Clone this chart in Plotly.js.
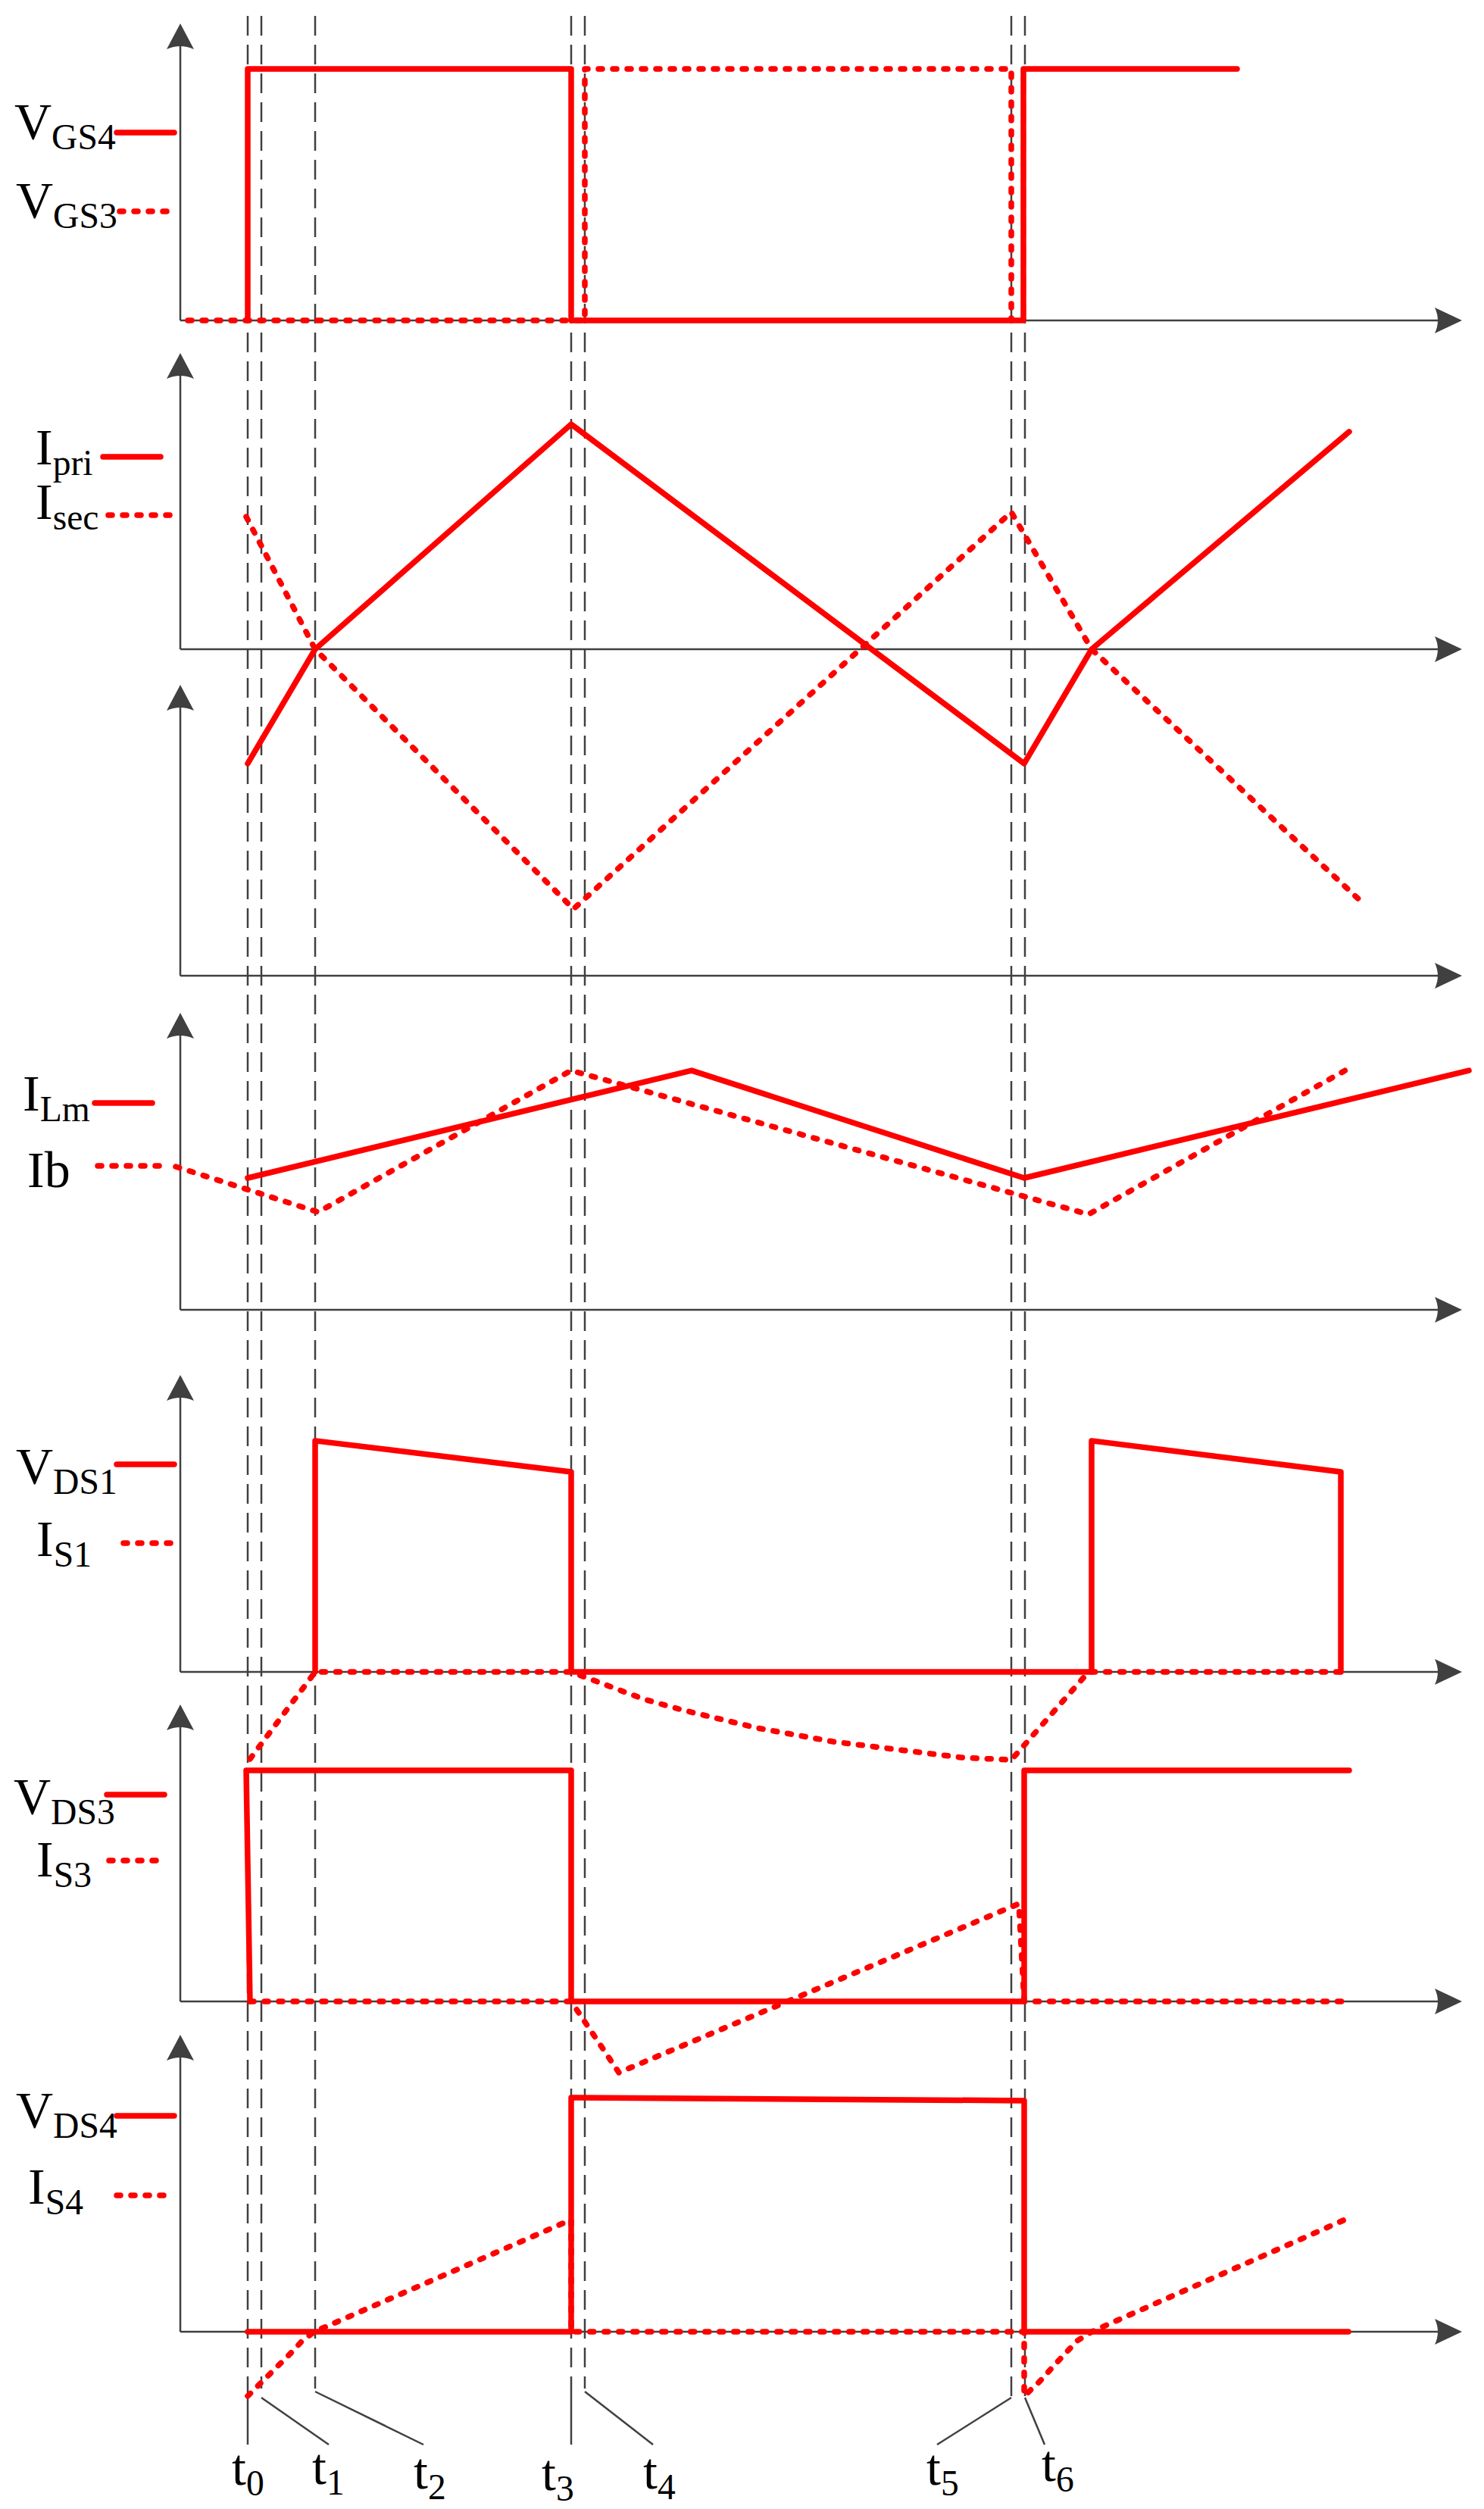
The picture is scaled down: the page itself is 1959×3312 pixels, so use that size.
<!DOCTYPE html>
<html>
<head>
<meta charset="utf-8">
<script src="https://cdn.plot.ly/plotly-3.0.1.min.js"></script>
<style>
  html, body { margin: 0; padding: 0; background: #fff; }
  #chart { width: 1959px; height: 3312px; }
  /* rounded beads for the red traces, like the drawing */
  #chart path[style*="rgb(255, 0, 0)"] { stroke-linecap: round; stroke-linejoin: round; }
</style>
</head>
<body>
<div id="chart"></div>
<script>
// --- Time instants (1 unit = 10 px of the drawing, 0 at the vertical axes) ---
const tLabels = ['t<sub>0</sub>', 't<sub>1</sub>', 't<sub>2</sub>', 't<sub>3</sub>', 't<sub>4</sub>', 't<sub>5</sub>', 't<sub>6</sub>'];
const tMarks = [8.9, 10.7, 17.8, 51.6, 53.4, 109.7, 111.5];

// --- Gate signals ---
const vgs4T = [8.9, 8.9, 51.6, 51.6, 111.3, 111.3, 139.5];
const vgs4 = [0, 1, 1, 0, 0, 1, 1];
const vgs3T = [1.0, 53.4, 53.4, 109.7, 109.7];
const vgs3 = [0, 0, 1, 1, 0];

// --- Primary / secondary currents ---
const ipriT = [8.9, 17.8, 51.6, 111.4, 120.3, 154.3];
const ipri = [-0.503, 0, 0.99, -0.503, 0, 0.957];
const isecT = [8.7, 17.8, 51.9, 109.7, 120.3, 156.2];
const isec = [0.583, 0, -1.143, 0.603, 0, -1.12];

// --- Magnetising and blocking currents ---
const ilmT = [8.9, 67.5, 111.4, 170.1];
const ilm = [0.58, 1.053, 0.58, 1.053];
const ibT = [-0.6, 18.2, 51.6, 119.9, 154.3];
const ib = [0.63, 0.43, 1.053, 0.42, 1.063];

// --- Switch S1 ---
const vds1T = [17.8, 17.8, 51.6, 51.6, 120.3, 120.3, 153.2, 153.2];
const vds1 = [0, 1.017, 0.88, 0, 0, 1.017, 0.88, 0];
const is1T = [9.2, 17.8, 51.6, 56.2, 61.2, 66.2, 76.2, 86.2, 96.2, 103.2, 109.7, 119.9, 153.2];
const is1 = [-0.383, 0, 0, -0.057, -0.12, -0.167, -0.247, -0.307, -0.35, -0.377, -0.387, 0, 0];

// --- Switch S3 ---
const vds3T = [9.2, 8.7, 51.6, 51.6, 111.4, 111.4, 154.3];
const vds3 = [0, 1.017, 1.017, 0, 0, 1.017, 1.017];
const is3T = [9.2, 51.6, 57.9, 110.7, 111.4, 154.3];
const is3 = [0, 0, -0.313, 0.43, 0, 0];

// --- Switch S4 ---
const vds4T = [8.9, 51.6, 51.6, 111.4, 111.4, 154.2];
const vds4 = [0, 0, 1.03, 1.017, 0, 0];
const is4T = [8.9, 11.0, 12.9, 14.5, 16.1, 17.7, 51.6, 51.6, 111.4, 111.4, 113.5, 115.3, 116.9, 118.4, 120.3, 154.2];
const is4 = [-0.283, -0.217, -0.15, -0.097, -0.04, 0, 0.493, 0, 0, -0.283, -0.217, -0.15, -0.097, -0.04, 0, 0.5];

// --- Layout helpers (pixel -> paper) ---
const W = 1959, H = 3312;
const X0 = 238, XU = 10;
const px = v => v / W;
const py = v => 1 - v / H;
const RED = '#ff0000', AX = '#404040';
const LW = 7.5;
const DOT = '5px,14px';

// panel bands: zero line pixel, plotted band, px per unit
const panels = [
  { zero: 423, top: 0, bot: 440, k: 332 },
  { zero: 857, top: 440, bot: 1300, k: 300 },
  { zero: 1729, top: 1320, bot: 1745, k: 300 },
  { zero: 2207, top: 1800, bot: 2345, k: 300 },
  { zero: 2642, top: 2240, bot: 2760, k: 300 },
  { zero: 3078, top: 2680, bot: 3190, k: 300 }
];

const series = [
  [0, vgs4T, vgs4, false], [0, vgs3T, vgs3, true],
  [1, ipriT, ipri, false], [1, isecT, isec, true],
  [2, ilmT, ilm, false], [2, ibT, ib, true],
  [3, vds1T, vds1, false], [3, is1T, is1, true],
  [4, vds3T, vds3, false], [4, is3T, is3, true],
  [5, vds4T, vds4, false], [5, is4T, is4, true]
];

const data = series.map(([p, x, y, dot]) => ({
  x: x, y: y, xaxis: 'x', yaxis: p === 0 ? 'y' : 'y' + (p + 1),
  type: 'scatter', mode: 'lines', hoverinfo: 'skip',
  line: { color: RED, width: LW, dash: dot ? DOT : 'solid' }
}));

const layout = {
  width: W, height: H,
  margin: { l: 0, r: 0, t: 0, b: 0 },
  paper_bgcolor: '#fff', plot_bgcolor: 'rgba(0,0,0,0)',
  showlegend: false,
  font: { family: 'Liberation Serif', color: '#000' },
  xaxis: { domain: [0, 1], range: [-X0 / XU, (W - X0) / XU], visible: false, fixedrange: true },
  shapes: [], annotations: []
};
panels.forEach((p, i) => {
  layout[i === 0 ? 'yaxis' : 'yaxis' + (i + 1)] = {
    domain: [py(p.bot), py(p.top)],
    range: [-(p.bot - p.zero) / p.k, (p.zero - p.top) / p.k],
    anchor: 'x', visible: false, fixedrange: true
  };
});

// axis frames with arrow heads
const frames = [[423, 31], [857, 466], [1288, 904], [1729, 1337], [2207, 1815], [2642, 2250], [3078, 2686]];
const XEND = 1930;
const P = (x, y) => px(x).toFixed(5) + ',' + py(y).toFixed(5);
frames.forEach(([base, tip]) => {
  layout.shapes.push(
    { type: 'line', xref: 'paper', yref: 'paper', x0: px(X0), x1: px(X0), y0: py(base), y1: py(tip + 20), line: { color: AX, width: 2.5 }, layer: 'below' },
    { type: 'line', xref: 'paper', yref: 'paper', x0: px(X0), x1: px(XEND - 20), y0: py(base), y1: py(base), line: { color: AX, width: 2.5 }, layer: 'below' },
    { type: 'path', xref: 'paper', yref: 'paper', path: 'M' + P(X0, tip) + ' L' + P(X0 - 18, tip + 34) + ' Q' + P(X0, tip + 26) + ' ' + P(X0 + 18, tip + 34) + ' Z', fillcolor: AX, line: { width: 0 } },
    { type: 'path', xref: 'paper', yref: 'paper', path: 'M' + P(XEND, base) + ' L' + P(XEND - 36, base - 17) + ' Q' + P(XEND - 28, base) + ' ' + P(XEND - 36, base + 17) + ' Z', fillcolor: AX, line: { width: 0 } }
  );
});

// dashed time markers, leaders and labels
const dashEnd = [3153, 3153, 3153, 3153, 3153, 3163, 3163];
const leadStart = [3153, 3165, 3157, 3153, 3157, 3165, 3165];
const leadDx = [0, 89, 143, 0, 90, -98, 26];
const labDx = [0, 88, 151, -18, 98, -91, 43];
const labBase = [3278, 3277, 3283, 3285, 3283, 3278, 3273];
tMarks.forEach((t, i) => {
  layout.shapes.push(
    { type: 'line', xref: 'x', yref: 'paper', x0: t, x1: t, y0: py(21), y1: py(dashEnd[i]), line: { color: AX, width: 2.5, dash: '26px,12px' }, layer: 'below' },
    { type: 'line', xref: 'x', yref: 'paper', x0: t, x1: t + leadDx[i] / XU, y0: py(leadStart[i]), y1: py(3227), line: { color: AX, width: 2.5 }, layer: 'below' }
  );
  layout.annotations.push({
    xref: 'x', yref: 'paper', x: t + labDx[i] / XU, y: py(labBase[i] - 17),
    xanchor: 'center', yanchor: 'middle', showarrow: false,
    text: tLabels[i], font: { size: 68, family: 'Liberation Serif', color: '#000' }
  });
});

// signal names with their line keys
const names = [
  ['V<sub>GS4</sub>', 17, 182, 154, 230, 175, false],
  ['V<sub>GS3</sub>', 19, 287, 158, 223, 279, true],
  ['I<sub>pri</sub>', 45, 613, 136, 212, 603, false],
  ['I<sub>sec</sub>', 45, 685, 143, 230, 680, true],
  ['I<sub>Lm</sub>', 28, 1466, 125, 201, 1456, false],
  ['Ib', 34, 1567, 129, 210, 1539, true],
  ['V<sub>DS1</sub>', 19, 1957, 154, 230, 1933, false],
  ['I<sub>S1</sub>', 46, 2054, 163, 230, 2037, true],
  ['V<sub>DS3</sub>', 16, 2393, 141, 217, 2369, false],
  ['I<sub>S3</sub>', 46, 2476, 144, 212, 2456, true],
  ['V<sub>DS4</sub>', 19, 2807, 154, 230, 2793, false],
  ['I<sub>S4</sub>', 35, 2908, 154, 223, 2898, true]
];
names.forEach(([txt, x, base, k0, k1, ky, dot]) => {
  const hasSub = txt.indexOf('<sub>') >= 0;
  layout.annotations.push({
    xref: 'paper', yref: 'paper', x: px(x), y: py(base - (hasSub ? 18 : 23)),
    xanchor: 'left', yanchor: 'middle', showarrow: false,
    text: txt, font: { size: 68, family: 'Liberation Serif', color: '#000' }
  });
  layout.shapes.push({
    type: 'line', xref: 'paper', yref: 'paper', x0: px(k0), x1: px(k1), y0: py(ky), y1: py(ky),
    line: { color: RED, width: LW, dash: dot ? DOT : 'solid' }
  });
});

Plotly.newPlot('chart', data, layout, { displayModeBar: false, staticPlot: true });
</script>
</body>
</html>
